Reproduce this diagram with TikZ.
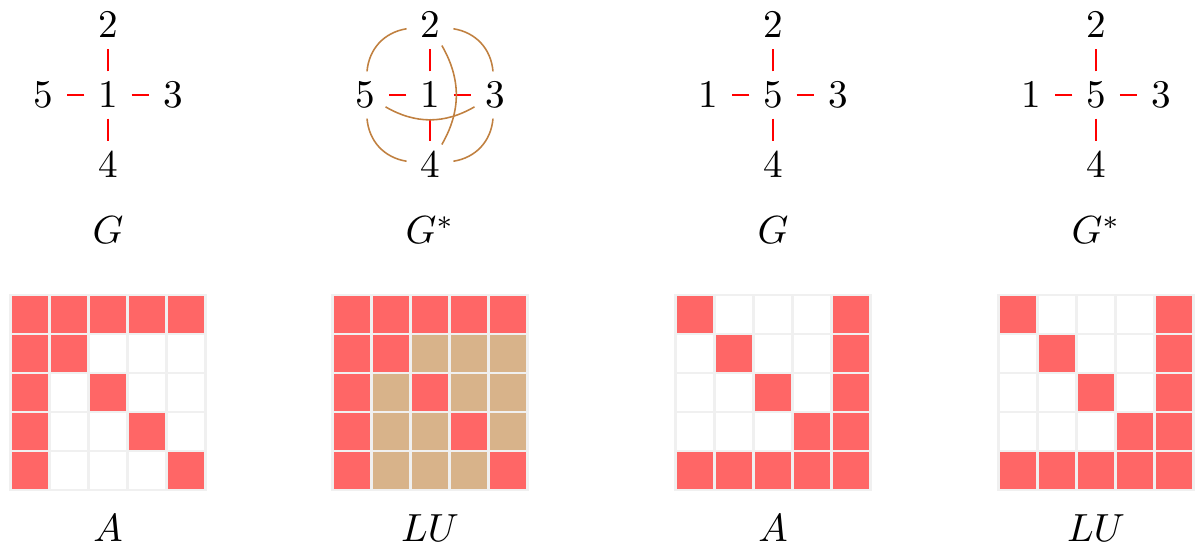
\documentclass[tikz,border=0pt]{standalone}
\usetikzlibrary{calc}

\definecolor{cellred}{RGB}{255,102,102}
\definecolor{celltan}{RGB}{216,179,138}
\definecolor{arcbrown}{RGB}{192,128,64}
\definecolor{gridgray}{RGB}{240,240,240}

% nonzero patterns (row/column)
\newcommand{\arrowred}{1/1,1/2,1/3,1/4,1/5,2/1,3/1,4/1,5/1,2/2,3/3,4/4,5/5}
\newcommand{\arrowtan}{2/3,2/4,2/5,3/2,3/4,3/5,4/2,4/3,4/5,5/2,5/3,5/4}
\newcommand{\reversered}{1/1,2/2,3/3,4/4,1/5,2/5,3/5,4/5,5/1,5/2,5/3,5/4,5/5}

\begin{document}
\begin{tikzpicture}[
    x=0.255pt, y=-0.255pt,
    vertex/.style={circle, inner sep=0pt, minimum size=11.7pt},
    edge/.style={red, thin},
    fillin/.style={arcbrown, thin},
    cell/.style={draw=gridgray, line width=0.7pt},
    caption/.style={inner sep=0pt},
]

\useasboundingbox (0,0) rectangle (1198,550);

% =============================================================================
% Scene 1: arrowhead graph and matrix
% =============================================================================
\begin{scope}[shift={(108,0)}]
    \node[vertex] (a1) at (0,95) {$1$};
    \node[vertex] (a2) at (0,25) {$2$};
    \node[vertex] (a3) at (65,95) {$3$};
    \node[vertex] (a4) at (0,165) {$4$};
    \node[vertex] (a5) at (-65,95) {$5$};

    \foreach \n in {2,3,4,5} {
        \draw[edge] (a1) -- (a\n);
    }

    \node[caption] (ga) at (0,230) {$G$};

    % Matrix A
    \foreach \i in {1,...,5} {
        \foreach \j in {1,...,5} {
            \draw[cell, fill=white] ({-97.5+(\j-1)*39}, {295+(\i-1)*39}) rectangle ++(39,39);
        }
    }
    \foreach \i/\j in \arrowred {
        \draw[cell, fill=cellred] ({-97.5+(\j-1)*39}, {295+(\i-1)*39}) rectangle ++(39,39);
    }

    \node[caption] (ma) at (0,528) {$A$};
\end{scope}

% =============================================================================
% Scene 2: arrowhead graph with fill-in
% =============================================================================
\begin{scope}[shift={(430,0)}]
    \node[vertex] (b1) at (0,95) {$1$};
    \node[vertex] (b2) at (0,25) {$2$};
    \node[vertex] (b3) at (65,95) {$3$};
    \node[vertex] (b4) at (0,165) {$4$};
    \node[vertex] (b5) at (-65,95) {$5$};

    \foreach \n in {2,3,4,5} {
        \draw[edge] (b1) -- (b\n);
    }

    % Fill-in edges
    \draw[fillin] (b2) to[bend right=38] (b5);
    \draw[fillin] (b5) to[bend right=38] (b4);
    \draw[fillin] (b4) to[bend right=38] (b3);
    \draw[fillin] (b3) to[bend right=38] (b2);
    \draw[fillin] (b2) to[bend left=30] (b4);
    \draw[fillin] (b5) to[bend right=30] (b3);

    \node[caption] (gb) at (0,230) {$G^*$};

    % Matrix LU
    \foreach \i/\j in \arrowred {
        \draw[cell, fill=cellred] ({-97.5+(\j-1)*39}, {295+(\i-1)*39}) rectangle ++(39,39);
    }
    \foreach \i/\j in \arrowtan {
        \draw[cell, fill=celltan] ({-97.5+(\j-1)*39}, {295+(\i-1)*39}) rectangle ++(39,39);
    }

    \node[caption] (mb) at (0,528) {$LU$};
\end{scope}

% =============================================================================
% Scene 3: reordered graph and matrix
% =============================================================================
\begin{scope}[shift={(773,0)}]
    \node[vertex] (c5) at (0,95) {$5$};
    \node[vertex] (c2) at (0,25) {$2$};
    \node[vertex] (c3) at (65,95) {$3$};
    \node[vertex] (c4) at (0,165) {$4$};
    \node[vertex] (c1) at (-65,95) {$1$};

    \foreach \n in {1,2,3,4} {
        \draw[edge] (c5) -- (c\n);
    }

    \node[caption] (gc) at (0,230) {$G$};

    % Matrix A
    \foreach \i in {1,...,5} {
        \foreach \j in {1,...,5} {
            \draw[cell, fill=white] ({-97.5+(\j-1)*39}, {295+(\i-1)*39}) rectangle ++(39,39);
        }
    }
    \foreach \i/\j in \reversered {
        \draw[cell, fill=cellred] ({-97.5+(\j-1)*39}, {295+(\i-1)*39}) rectangle ++(39,39);
    }

    \node[caption] (mc) at (0,528) {$A$};
\end{scope}

% =============================================================================
% Scene 4: reordered graph, no fill-in
% =============================================================================
\begin{scope}[shift={(1096,0)}]
    \node[vertex] (d5) at (0,95) {$5$};
    \node[vertex] (d2) at (0,25) {$2$};
    \node[vertex] (d3) at (65,95) {$3$};
    \node[vertex] (d4) at (0,165) {$4$};
    \node[vertex] (d1) at (-65,95) {$1$};

    \foreach \n in {1,2,3,4} {
        \draw[edge] (d5) -- (d\n);
    }

    \node[caption] (gd) at (0,230) {$G^*$};

    % Matrix LU
    \foreach \i in {1,...,5} {
        \foreach \j in {1,...,5} {
            \draw[cell, fill=white] ({-97.5+(\j-1)*39}, {295+(\i-1)*39}) rectangle ++(39,39);
        }
    }
    \foreach \i/\j in \reversered {
        \draw[cell, fill=cellred] ({-97.5+(\j-1)*39}, {295+(\i-1)*39}) rectangle ++(39,39);
    }

    \node[caption] (md) at (0,528) {$LU$};
\end{scope}

\end{tikzpicture}
\end{document}
